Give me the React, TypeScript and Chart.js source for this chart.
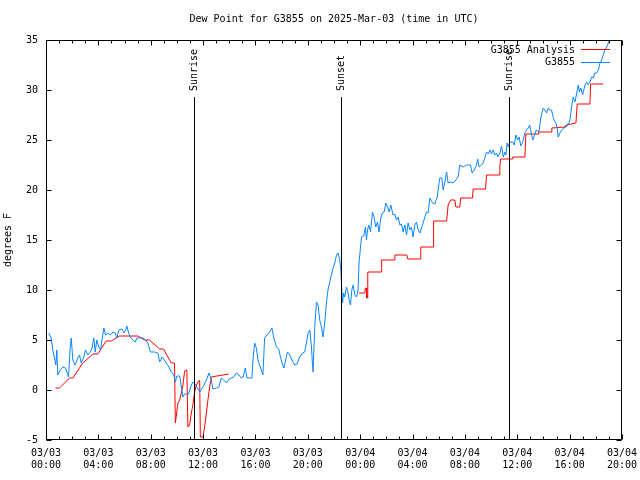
import React, { useEffect, useRef } from 'react';
import { Chart, registerables } from 'chart.js';

Chart.register(...registerables);

const FONT = "'DejaVu Sans Mono', 'Liberation Mono', monospace";

const chartTitle = 'Dew Point for G3855 on 2025-Mar-03 (time in UTC)';
const yAxisTitle = 'degrees F';
const seriesLabels = ['G3855 Analysis', 'G3855'];
const seriesColors = ['#ff0000', '#0a86ff'];

// x tick labels every 4 hours from 03/03 00:00 (UTC)
const xTickLabels = [
  ['03/03', '00:00'], ['03/03', '04:00'], ['03/03', '08:00'], ['03/03', '12:00'],
  ['03/03', '16:00'], ['03/03', '20:00'], ['03/04', '00:00'], ['03/04', '04:00'],
  ['03/04', '08:00'], ['03/04', '12:00'], ['03/04', '16:00'], ['03/04', '20:00'],
];
const xMin = 0;
const xMax = 44;
const yMin = -5;
const yMax = 35;

// sunrise / sunset markers (hours since 03/03 00:00 UTC)
const sunHours = [11.32, 22.57, 35.33];
const sunLabels = ['Sunrise', 'Sunset', 'Sunrise'];

// observed station dew point (hours since 03/03 00:00, deg F)
const obsHours = [
  0.21, 0.40, 0.52, 0.65, 0.75, 0.83, 0.90, 1.09, 1.28, 1.49,
  1.72, 1.85, 1.93, 2.05, 2.23, 2.43, 2.56, 2.69, 2.87, 3.02,
  3.20, 3.38, 3.53, 3.65, 3.76, 3.88, 4.04, 4.17, 4.30, 4.42,
  4.55, 4.72, 4.93, 5.11, 5.29, 5.41, 5.57, 5.80, 5.95, 6.08,
  6.18, 6.31, 6.44, 6.64, 6.82, 6.94, 7.15, 7.40, 7.61, 7.78,
  7.97, 8.30, 8.55, 8.68, 8.88, 9.14, 9.39, 9.57, 9.77, 9.88,
  10.00, 10.21, 10.34, 10.46, 10.59, 10.89, 11.10, 11.22, 11.43, 11.56,
  11.74, 11.99, 12.25, 12.45, 12.63, 12.75, 13.01, 13.21, 13.39, 13.57,
  13.78, 13.98, 14.16, 14.33, 14.54, 14.74, 14.92, 15.05, 15.23, 15.35,
  15.73, 15.81, 15.94, 16.07, 16.19, 16.32, 16.45, 16.57, 16.70, 16.88,
  17.09, 17.26, 17.39, 17.60, 17.78, 17.91, 18.06, 18.18, 18.31, 18.44,
  18.62, 18.82, 19.00, 19.17, 19.38, 19.59, 19.76, 19.89, 20.02, 20.15,
  20.28, 20.35, 20.40, 20.53, 20.66, 20.78, 20.91, 21.04, 21.16, 21.29,
  21.42, 21.54, 21.67, 21.80, 21.93, 22.06, 22.19, 22.31, 22.44, 22.52,
  22.57, 22.65, 22.74, 22.82, 22.95, 23.07, 23.15, 23.26, 23.36, 23.46,
  23.59, 23.72, 23.84, 23.91, 24.02, 24.10, 24.27, 24.40, 24.48, 24.56,
  24.66, 24.79, 24.94, 25.06, 25.19, 25.32, 25.44, 25.57, 25.70, 25.83,
  25.96, 26.09, 26.21, 26.34, 26.51, 26.64, 26.77, 26.90, 27.03, 27.16,
  27.28, 27.41, 27.54, 27.66, 27.79, 27.92, 28.04, 28.17, 28.30, 28.43,
  28.56, 28.76, 28.94, 29.07, 29.19, 29.32, 29.53, 29.70, 29.88, 29.95,
  30.08, 30.24, 30.34, 30.47, 30.60, 30.72, 30.90, 31.10, 31.31, 31.48,
  31.61, 31.87, 32.13, 32.43, 32.55, 32.71, 32.89, 32.97, 33.09, 33.27,
  33.39, 33.52, 33.65, 33.78, 33.91, 34.04, 34.16, 34.29, 34.42, 34.50,
  34.67, 34.80, 34.93, 35.05, 35.13, 35.23, 35.31, 35.44, 35.65, 35.77,
  35.90, 36.03, 36.15, 36.26, 36.42, 36.58, 36.71, 36.84, 36.95, 37.06,
  37.19, 37.32, 37.46, 37.66, 37.79, 37.98, 38.11, 38.24, 38.36, 38.49,
  38.62, 38.70, 38.80, 38.95, 39.05, 39.13, 39.26, 39.39, 39.56, 39.72,
  39.89, 40.02, 40.15, 40.27, 40.41, 40.54, 40.66, 40.74, 40.86, 40.99,
  41.17, 41.30, 41.42, 41.55, 41.68, 41.80, 41.93, 42.06, 42.19, 42.32,
  42.45, 42.57, 42.70, 42.83, 42.95, 43.21,
];
const obsDew = [
  5.7, 5.2, 4.0, 3.2, 2.5, 4.0, 1.5, 2.0, 2.3, 2.2,
  1.3, 4.3, 5.2, 3.0, 2.5, 3.2, 3.5, 2.7, 3.2, 4.0,
  3.5, 3.8, 4.2, 5.2, 3.8, 5.0, 4.3, 4.0, 5.2, 6.2,
  5.5, 5.7, 5.5, 5.8, 5.7, 5.2, 6.0, 6.1, 5.7, 6.0,
  6.4, 5.7, 5.3, 5.0, 4.8, 5.2, 5.2, 5.2, 5.0, 4.7,
  3.8, 3.8, 3.7, 2.8, 3.3, 2.8, 2.3, 1.8, 1.5, 0.8,
  1.4, 1.4, 0.3, -0.7, -0.4, -0.4, 0.5, 0.8, 0.5, 0.2,
  -0.2, 0.3, 1.0, 1.7, 1.0, 0.1, 0.2, 0.3, 1.2, 1.0,
  0.7, 1.1, 1.2, 1.3, 1.7, 1.5, 1.2, 1.3, 2.2, 1.2,
  1.2, 3.0, 4.7, 4.2, 3.0, 2.5, 2.0, 1.5, 5.2, 5.5,
  5.8, 6.2, 5.3, 4.3, 4.1, 3.3, 2.6, 2.2, 3.0, 3.8,
  3.5, 2.9, 2.5, 2.6, 3.3, 3.7, 3.8, 4.7, 5.7, 6.0,
  4.3, 2.7, 1.8, 6.3, 8.8, 8.5, 7.0, 6.3, 5.3, 6.7,
  8.7, 10.0, 10.8, 11.5, 12.2, 12.7, 13.5, 13.7, 13.0, 12.0,
  10.7, 8.7, 9.7, 9.3, 10.3, 9.8, 9.0, 8.5, 10.0, 10.5,
  9.5, 9.3, 10.0, 12.7, 14.2, 15.3, 15.4, 16.3, 15.0, 16.0,
  16.5, 15.8, 17.8, 17.3, 16.3, 16.8, 15.8, 17.2, 17.7, 17.8,
  18.7, 18.3, 17.8, 18.5, 17.5, 17.6, 17.0, 17.3, 16.5, 16.6,
  15.8, 16.5, 15.5, 16.7, 16.0, 16.3, 15.3, 16.5, 16.8, 16.0,
  15.7, 16.5, 17.3, 17.8, 17.7, 19.2, 18.7, 18.6, 19.3, 20.0,
  21.2, 21.2, 20.0, 20.8, 21.8, 20.7, 20.8, 20.7, 21.0, 21.3,
  22.5, 22.3, 22.5, 22.5, 21.7, 22.0, 22.5, 23.1, 22.3, 22.5,
  22.7, 23.2, 23.8, 23.6, 24.0, 23.6, 24.0, 23.5, 23.7, 23.3,
  23.7, 24.4, 23.3, 23.8, 23.5, 24.7, 24.3, 24.8, 24.8, 24.5,
  25.5, 25.0, 25.3, 24.4, 24.8, 25.7, 26.0, 26.2, 26.5, 25.7,
  25.0, 25.5, 26.0, 25.8, 27.2, 28.2, 28.0, 27.7, 28.2, 28.0,
  28.0, 27.5, 27.0, 26.7, 26.2, 25.3, 25.7, 26.0, 26.2, 26.3,
  26.5, 27.0, 28.3, 29.3, 28.8, 29.7, 30.5, 29.8, 30.2, 29.5,
  30.5, 30.8, 30.5, 30.8, 31.3, 31.2, 31.7, 31.7, 32.0, 32.7,
  33.0, 33.5, 34.0, 34.3, 34.7, 35.5,
];

// analysis dew point (null = gap)
const anaHours = [
  0.73, 1.03, 1.80, 2.05, 2.81, 3.58, 3.96, 4.60, 4.98, 5.62,
  7.02, 7.53, 7.91, 8.68, 8.98, 9.57, 9.82, 9.88, 10.08, 10.21,
  10.34, 10.46, 10.59, 10.76, 10.84, 10.97, 11.10, 11.22, 11.35, 11.48,
  11.61, 11.74, 11.79, 11.99, 12.12, 12.25, 12.37, 12.50, 12.63, 13.06,
  13.52, 13.95,
  18.0,
  23.91, 24.35, 24.40, 24.46, 24.50, 24.54, 24.58, 25.63, 25.64, 26.64,
  26.65, 27.56, 27.64, 28.59, 28.63, 29.57, 29.61, 30.60, 30.66, 30.72,
  30.90, 31.23, 31.31, 31.61, 31.67, 32.58, 32.63, 33.58, 33.65, 34.62,
  34.67, 34.72, 35.61, 35.65, 36.58, 36.66, 37.60, 37.64, 38.62, 38.64,
  39.64, 39.72, 40.48, 40.58, 41.55, 41.60, 42.57,
];
const anaDew = [
  0.2, 0.2, 1.2, 1.2, 2.7, 3.6, 3.6, 4.9, 4.9, 5.4,
  5.4, 5.0, 5.0, 4.1, 4.1, 2.7, 2.7, -3.3, -1.3, -1.0,
  -0.3, 0.5, 1.9, 2.0, -3.7, -3.5, -2.3, -1.5, -0.2, 0.5,
  0.8, 1.0, -4.7, -4.7, -3.7, -2.3, -1.0, 0.3, 1.3, 1.4,
  1.5, 1.6,
  null,
  9.7, 9.7, 10.2, 10.2, 9.2, 9.2, 11.8, 11.8, 13.0, 13.0,
  13.5, 13.5, 13.1, 13.1, 14.3, 14.3, 16.9, 16.9, 17.7, 18.5,
  19.0, 19.0, 18.3, 18.3, 19.2, 19.2, 20.1, 20.1, 21.5, 21.5,
  22.3, 23.1, 23.1, 23.3, 23.3, 25.6, 25.6, 25.8, 25.8, 26.2,
  26.3, 26.5, 26.7, 28.6, 28.6, 30.6, 30.6,
];

const gnuplotDecor = {
  id: 'gnuplotDecor',
  afterDatasetsDraw(chart: any) {
    const { ctx, chartArea: a, scales } = chart;
    const xs = scales.x;
    const ys = scales.y;
    const L = Math.round(a.left) + 0.5;
    const R = Math.round(a.right) - 0.5;
    const T = Math.round(a.top) + 0.5;
    const B = Math.round(a.bottom) - 0.5;
    ctx.save();
    ctx.strokeStyle = '#000';
    ctx.lineWidth = 1;
    ctx.beginPath();
    // frame
    ctx.rect(L, T, R - L, B - T);
    // x ticks (hourly minor, 4-hourly major), bottom and top, inward
    for (let h = xMin; h <= xMax; h++) {
      const px = Math.round(xs.getPixelForValue(h)) + 0.5;
      const len = h % 4 === 0 ? 5 : 3;
      ctx.moveTo(px, B);
      ctx.lineTo(px, B - len);
      ctx.moveTo(px, T);
      ctx.lineTo(px, T + len);
    }
    // y ticks, left and right, inward
    for (let v = yMin; v <= yMax; v += 5) {
      const py = Math.round(ys.getPixelForValue(v)) + 0.5;
      ctx.moveTo(L, py);
      ctx.lineTo(L + 5, py);
      ctx.moveTo(R, py);
      ctx.lineTo(R - 5, py);
    }
    ctx.stroke();

    // sunrise / sunset markers
    ctx.font = '10px ' + FONT;
    ctx.fillStyle = '#000';
    ctx.textBaseline = 'middle';
    ctx.textAlign = 'left';
    sunHours.forEach((h, i) => {
      const px = Math.round(xs.getPixelForValue(h)) + 0.5;
      ctx.beginPath();
      ctx.moveTo(px, B);
      ctx.lineTo(px, a.top + 57);
      ctx.stroke();
      ctx.save();
      ctx.translate(px, a.top + 51);
      ctx.rotate(-Math.PI / 2);
      ctx.fillText(sunLabels[i], 0, 0);
      ctx.restore();
    });

    // key (top right, inside)
    ctx.textAlign = 'right';
    seriesLabels.forEach((label, i) => {
      const yy = a.top + 10 + i * 12.7;
      ctx.fillStyle = '#000';
      ctx.fillText(label, a.right - 47, yy);
      ctx.strokeStyle = seriesColors[i];
      ctx.beginPath();
      const ly = Math.round(yy) - 0.5;
      ctx.moveTo(a.right - 41, ly);
      ctx.lineTo(a.right - 12, ly);
      ctx.stroke();
    });
    ctx.restore();
  },
};

export default function App() {
  const canvasRef = useRef<HTMLCanvasElement | null>(null);

  useEffect(() => {
    document.body.style.margin = '0';
    const canvas = canvasRef.current;
    if (!canvas) return;
    const anaData = anaHours.map((h, i) => ({ x: h, y: anaDew[i] }));
    const obsData = obsHours.map((h, i) => ({ x: h, y: obsDew[i] }));
    const chart = new Chart(canvas, {
      type: 'line',
      data: {
        datasets: [
          {
            label: seriesLabels[0],
            data: anaData as any,
            borderColor: seriesColors[0],
            backgroundColor: seriesColors[0],
            borderWidth: 1,
            pointRadius: 0,
            tension: 0,
            spanGaps: false,
            order: 1,
          },
          {
            label: seriesLabels[1],
            data: obsData as any,
            borderColor: seriesColors[1],
            backgroundColor: seriesColors[1],
            borderWidth: 1,
            pointRadius: 0,
            tension: 0,
            spanGaps: false,
            order: 0,
          },
        ],
      },
      options: {
        responsive: false,
        animation: false,
        devicePixelRatio: 1,
        layout: { padding: { left: 0, right: 18, top: 0, bottom: 0 } },
        plugins: {
          legend: { display: false },
          tooltip: { enabled: false },
          title: {
            display: true,
            text: chartTitle,
            color: '#000',
            fullSize: false,
            font: { family: FONT, size: 10, weight: 'normal' as any, lineHeight: 1.2 },
            padding: { top: 13, bottom: 15 },
          },
        },
        scales: {
          x: {
            type: 'linear',
            min: xMin,
            max: xMax,
            afterFit: (s: any) => {
              s.height = 40;
              s.paddingLeft = 0;
              s.paddingRight = 0;
            },
            grid: { display: false, drawTicks: false, tickLength: 0 },
            border: { display: false },
            ticks: {
              stepSize: 4,
              autoSkip: false,
              maxRotation: 0,
              minRotation: 0,
              padding: 7,
              color: '#000',
              font: { family: FONT, size: 10, lineHeight: 1.2 },
              callback: (v: any) => xTickLabels[Math.round((Number(v) - xMin) / 4)],
            },
          },
          y: {
            type: 'linear',
            min: yMin,
            max: yMax,
            afterFit: (s: any) => {
              s.width = 46;
              s.paddingTop = 0;
              s.paddingBottom = 0;
            },
            grid: { display: false, drawTicks: false, tickLength: 0 },
            border: { display: false },
            title: {
              display: true,
              text: yAxisTitle,
              color: '#000',
              font: { family: FONT, size: 10, lineHeight: 1.2 },
              padding: { top: 2, bottom: 0 },
            },
            ticks: {
              stepSize: 5,
              padding: 8,
              color: '#000',
              font: { family: FONT, size: 10 },
            },
          },
        },
      },
      plugins: [gnuplotDecor],
    });
    return () => chart.destroy();
  }, []);

  return (
    <div style={{ width: 640, height: 480, background: '#fff' }}>
      <canvas ref={canvasRef} width={640} height={480} style={{ display: 'block' }} />
    </div>
  );
}
